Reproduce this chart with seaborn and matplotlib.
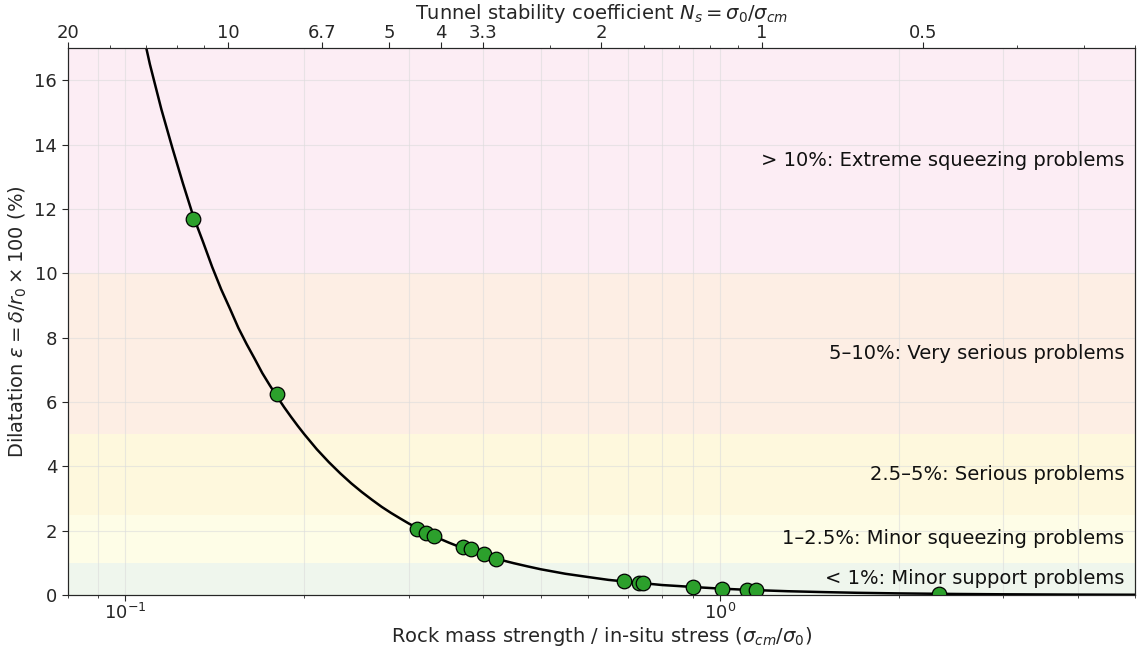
import numpy as np
import pandas as pd
import matplotlib
matplotlib.use("Agg")
import matplotlib.pyplot as plt
import seaborn as sns

# Hoek-style squeezing curve
curve_x = [0.105, 0.107, 0.11, 0.115, 0.12, 0.125, 0.13, 0.135, 0.14, 0.145, 0.15, 0.155,
           0.16, 0.165, 0.17, 0.175, 0.18, 0.185, 0.19, 0.195, 0.2, 0.21, 0.22, 0.23, 0.24,
           0.25, 0.26, 0.27, 0.28, 0.29, 0.3, 0.31, 0.32, 0.33, 0.34, 0.35, 0.36, 0.38, 0.4,
           0.42, 0.45, 0.475, 0.5, 0.55, 0.6, 0.65, 0.7, 0.75, 0.8, 0.85, 0.9, 1.0, 1.1,
           1.2, 1.3, 1.5, 1.7, 2.0, 2.5, 3.0, 4.0, 5.0]
curve_y = [18.1, 17.5, 16.5, 15.1, 13.9, 12.8, 11.8, 11.0, 10.2, 9.5, 8.9, 8.3,
           7.8, 7.35, 6.9, 6.52, 6.17, 5.84, 5.54, 5.26, 5.0, 4.53, 4.13, 3.78, 3.47,
           3.2, 2.96, 2.74, 2.55, 2.38, 2.22, 2.08, 1.95, 1.84, 1.73, 1.63, 1.54, 1.39, 1.25,
           1.13, 0.99, 0.89, 0.8, 0.66, 0.56, 0.47, 0.41, 0.36, 0.31, 0.28, 0.25, 0.2, 0.165,
           0.14, 0.118, 0.09, 0.069, 0.05, 0.032, 0.022, 0.0125, 0.008]

# case history points
case_x = [0.13, 0.18, 0.31, 0.32, 0.33, 0.37, 0.381, 0.401, 0.42, 0.69, 0.731, 0.743,
          0.902, 1.01, 1.11, 1.15, 2.34]
case_y = [11.7, 6.25, 2.05, 1.93, 1.82, 1.48, 1.42, 1.27, 1.12, 0.43, 0.38, 0.36,
          0.24, 0.2, 0.16, 0.16, 0.04]

# squeezing classes
band_low = [0, 1, 2.5, 5, 10]
band_high = [1, 2.5, 5, 10, 17]
band_colors = ["#eff6ed", "#fefde7", "#fef8dd", "#fdeee4", "#fcedf4"]
band_labels = ["< 1%: Minor support problems",
               "1\u20132.5%: Minor squeezing problems",
               "2.5\u20135%: Serious problems",
               "5\u201310%: Very serious problems",
               "> 10%: Extreme squeezing problems"]
label_y = [0.5, 1.75, 3.75, 7.5, 13.5]

top_ticks = [0.05, 0.1, 0.15, 0.2, 0.25, 0.3, 0.5, 1, 2]
top_labels = ["20", "10", "6.7", "5", "4", "3.3", "2", "1", "0.5"]

sns.set_style("white")
plt.rcParams["font.family"] = ["DejaVu Sans"]

fig, ax = plt.subplots(figsize=(11.37, 6.5), dpi=100)
fig.subplots_adjust(left=0.0595, right=0.9985, bottom=0.0846, top=0.926)

for lo, hi, c in zip(band_low, band_high, band_colors):
    ax.axhspan(lo, hi, color=c, zorder=0, lw=0)

curve = pd.DataFrame({"x": curve_x, "y": curve_y})
cases = pd.DataFrame({"x": case_x, "y": case_y})
sns.lineplot(data=curve, x="x", y="y", color="black", lw=1.8, ax=ax, zorder=3)
sns.scatterplot(data=cases, x="x", y="y", color="#2ca02c", edgecolor="black",
                linewidth=0.9, s=110, ax=ax, zorder=4)

ax.set_xscale("log")
ax.set_xlim(0.08, 5)
ax.set_ylim(0, 17)
ax.set_yticks(range(0, 17, 2))
ax.grid(True, which="both", axis="x", color="#dcdcdc", lw=0.8, alpha=0.6)
ax.grid(True, which="major", axis="y", color="#dcdcdc", lw=0.8, alpha=0.6)
for gl in ax.get_xgridlines() + ax.get_ygridlines():
    gl.set_zorder(1)

for txt, yy in zip(band_labels, label_y):
    ax.text(0.99, yy, txt, transform=ax.get_yaxis_transform(), ha="right",
            va="center", fontsize=14, color="#111111", zorder=5)

ax.set_xlabel(r"Rock mass strength / in-situ stress ($\sigma_{cm}/\sigma_0$)", fontsize=14,
              labelpad=1)
ax.set_ylabel(r"Dilatation $\varepsilon = \delta/r_0 \times 100$ (%)", fontsize=14)
ax.tick_params(axis="both", which="major", labelsize=13, length=4, direction="out",
               bottom=True, left=True)
ax.tick_params(axis="x", which="major", pad=2)
ax.tick_params(axis="x", which="minor", length=2.5, bottom=True)
for sp in ax.spines.values():
    sp.set_color("#333333")

ax2 = ax.twiny()
ax2.set_xscale("log")
ax2.set_xlim(0.05, 5)
ax2.set_xticks(top_ticks)
ax2.set_xticklabels(top_labels)
ax2.tick_params(axis="x", which="major", labelsize=13, length=4, top=True, pad=0.5)
ax2.tick_params(axis="x", which="minor", length=2.5, top=True)
ax2.set_xlabel(r"Tunnel stability coefficient $N_s = \sigma_0/\sigma_{cm}$", fontsize=14,
               labelpad=3.5)

fig.savefig("out.png", dpi=100)
